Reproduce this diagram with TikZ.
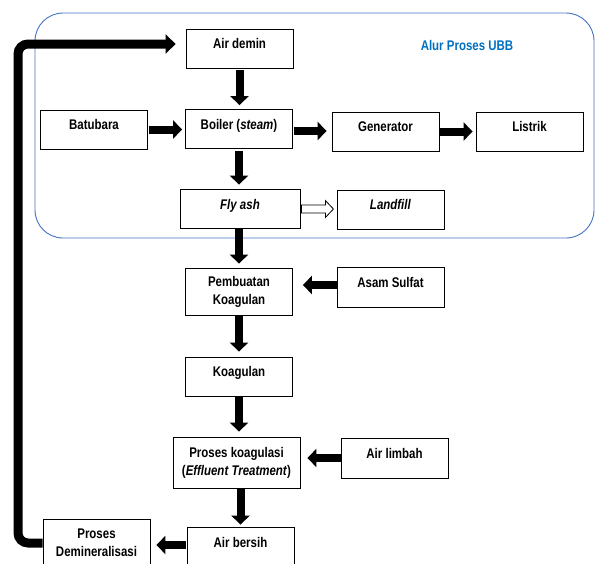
\documentclass[tikz,border=0pt]{standalone}
\usepackage{fontspec}
\setmainfont{Liberation Sans}[FakeStretch=0.82]
\usetikzlibrary{arrows.meta,calc}
\definecolor{frameblue}{RGB}{68,114,196}
\definecolor{titleblue}{RGB}{0,112,192}
\begin{document}
\begin{tikzpicture}[x=1pt,y=-1pt,
  basebox/.style={draw, line width=0.8pt, fill=white, minimum width=107pt, minimum height=39pt, inner sep=2pt, font=\fontsize{14}{18}\selectfont\bfseries},
  onebox/.style={basebox, text height=10pt, text depth=10pt},
  multibox/.style={basebox, align=center},
  blk/.style={line width=8pt, -{Triangle[width=18pt,length=9pt]}},
  ret/.style={line width=9pt, rounded corners=10pt, -{Triangle[width=19pt,length=10pt]}},
  hollow/.style={line width=0.8pt, fill=white, line join=miter}]
\useasboundingbox (0,0) rectangle (595,563);
\fill[white] (0,0) rectangle (595,563);
\clip (0,0) rectangle (595,563);
% frame
\draw[frameblue, line width=0.9pt, rounded corners=28pt] (35,13) rectangle (594,238);
\node[font=\fontsize{14}{18}\selectfont\bfseries, text=titleblue] (title) at (467,45) {Alur Proses UBB};
% nodes
\node[onebox] (airdemin) at (239.5,48.5) {Air demin};
\node[onebox] (boiler) at (239,129) {Boiler (\textit{steam})};
\node[onebox] (batubara) at (94,129.5) {Batubara};
\node[onebox] (generator) at (385.5,131.5) {Generator};
\node[onebox] (listrik) at (529.5,131.5) {Listrik};
\node[onebox, minimum width=120pt] (flyash) at (240,209) {\textit{Fly ash}};
\node[onebox] (landfill) at (390.5,209.5) {\textit{Landfill}};
\node[multibox, minimum height=47pt] (pembuatan) at (239,291.5) {Pembuatan\\Koagulan};
\node[onebox, minimum height=40pt] (asam) at (390.5,287) {Asam Sulfat};
\node[onebox] (koagulan) at (239,376.5) {Koagulan};
\node[multibox, minimum width=127pt, minimum height=51pt] (koagulasi) at (236.5,462.5) {Proses koagulasi\\(\textit{Effluent Treatment})};
\node[onebox, minimum height=40pt] (limbah) at (394.5,458) {Air limbah};
\node[onebox, minimum height=40pt] (bersih) at (240.5,547) {Air bersih};
\node[multibox, minimum height=48pt] (demin) at (96.5,543) {Proses\\Demineralisasi};
% arrows
\draw[blk, shorten <=2pt, shorten >=4pt] (airdemin.south) -- (airdemin.south |- boiler.north);
\draw[blk, shorten <=1pt, shorten >=3pt] (batubara.east) -- (batubara.east -| boiler.west);
\coordinate (bg) at ($(boiler.east)+(0,2)$);
\draw[blk, shorten <=1pt, shorten >=5pt] (bg) -- (bg -| generator.west);
\draw[blk, shorten >=3pt] (generator.east) -- (listrik.west);
\draw[blk, shorten <=2pt, shorten >=4.5pt] (boiler.south) -- (boiler.south |- flyash.north);
\draw[blk, shorten >=4pt] (flyash.south -| pembuatan) -- (pembuatan.north);
\draw[blk, shorten >=5pt] (pembuatan.south) -- (pembuatan.south |- koagulan.north);
\draw[blk, shorten >=5pt] (koagulan.south) -- (koagulan.south |- koagulasi.north);
\draw[blk, shorten >=2pt] (bersih.north |- koagulasi.south) -- (bersih.north);
\coordinate (ap) at ($(asam.west)+(0,-2)$);
\draw[blk, shorten >=10pt] (ap) -- (ap -| pembuatan.east);
\draw[blk, shorten >=7pt] (limbah.west) -- (limbah.west -| koagulasi.east);
\coordinate (bd) at ($(bersih.west)+(0,-2)$);
\draw[blk, shorten <=1pt, shorten >=6pt] (bd) -- (bd -| demin.east);
% hollow arrow
\draw[hollow] ($(flyash.east)+(1,-4)$) -- ++(24,0) -- ++(0,-4.5) -- ++(8,8.5) -- ++(-8,8.5) -- ++(0,-4.5) -- ++(-24,0) -- cycle;
% return line
\coordinate (retbot) at (18,543);
\coordinate (rettop) at (18,44);
\draw[ret, shorten >=10pt] (demin.west) -- (retbot) -- (rettop) -- (airdemin.west |- rettop);
\end{tikzpicture}
\end{document}
